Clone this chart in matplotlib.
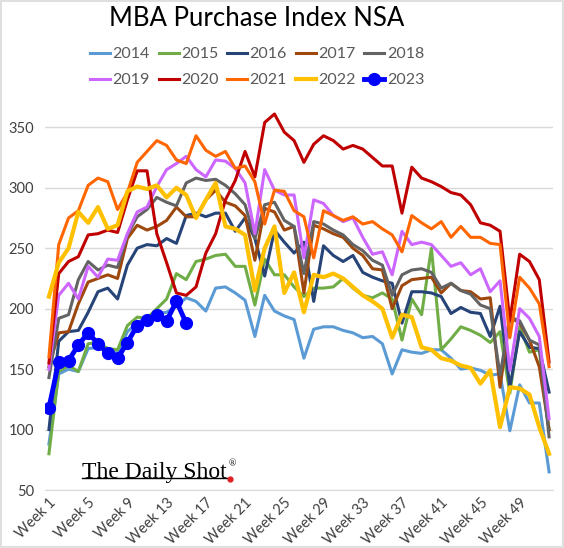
import matplotlib
matplotlib.use('Agg')
import matplotlib.pyplot as plt
from matplotlib.lines import Line2D
from matplotlib.patches import Rectangle

plt.rcParams['font.family'] = ['Lato', 'DejaVu Sans']

weeks = list(range(1, 53))
tick_weeks = list(range(1, 53, 4))
tick_labels = ['Week %d' % w for w in tick_weeks]

y2014 = [88, 146, 150, 148, 167, 168, 166, 163, 181, 188, 193, 196, 197, 202, 209, 206, 198, 217, 218, 213,
         207, 177, 211, 198, 194, 191, 159, 183, 185, 185, 182, 180, 176, 177, 171, 146, 166, 164, 163, 166,
         166, 159, 150, 151, 149, 145, 146, 99, 137, 122, 122, 65]
y2015 = [80, 148, 153, 148, 171, 172, 167, 166, 186, 193, 192, 200, 208, 229, 224, 239, 241, 244, 245, 235,
         235, 203, 241, 228, 228, 218, 210, 217, 217, 218, 225, 217, 211, 209, 213, 208, 174, 208, 195, 250,
         166, 175, 185, 182, 178, 172, 181, 130, 185, 164, 166, 100]
y2016 = [100, 173, 181, 182, 197, 214, 217, 208, 236, 250, 253, 252, 258, 254, 277, 279, 276, 279, 279, 264,
         275, 258, 227, 265, 255, 246, 255, 206, 252, 244, 239, 244, 230, 226, 223, 221, 188, 214, 214, 213,
         210, 196, 201, 197, 196, 177, 202, 135, 181, 168, 167, 131]
y2017 = [152, 180, 181, 204, 222, 225, 228, 225, 258, 269, 265, 268, 273, 284, 276, 276, 290, 298, 288, 285,
         277, 240, 283, 280, 265, 268, 213, 269, 266, 262, 259, 250, 244, 233, 232, 200, 219, 224, 225, 226,
         213, 221, 215, 214, 208, 209, 135, 193, 188, 174, 152, 100]
y2018 = [143, 192, 195, 224, 239, 232, 236, 234, 261, 276, 282, 292, 288, 285, 304, 308, 306, 307, 302, 295,
         286, 258, 286, 288, 273, 268, 229, 272, 270, 265, 261, 253, 248, 240, 236, 211, 228, 232, 233, 230,
         217, 221, 215, 212, 203, 200, 145, 193, 190, 174, 170, 94]
y2019 = [150, 211, 221, 208, 235, 226, 241, 240, 262, 280, 284, 301, 315, 320, 326, 315, 309, 323, 322, 316,
         304, 262, 315, 298, 294, 294, 242, 290, 287, 277, 272, 275, 259, 245, 247, 228, 264, 253, 255, 253,
         244, 235, 238, 228, 233, 214, 223, 149, 200, 192, 177, 109]
y2020 = [155, 229, 239, 243, 261, 262, 265, 263, 290, 314, 314, 262, 238, 213, 211, 218, 246, 262, 290, 306,
         330, 309, 354, 361, 346, 339, 321, 336, 343, 339, 332, 335, 332, 325, 318, 318, 279, 317, 308, 305,
         301, 296, 294, 286, 271, 269, 264, 190, 245, 239, 224, 156]
y2021 = [160, 253, 275, 281, 302, 308, 305, 282, 296, 321, 330, 339, 335, 323, 320, 343, 331, 326, 330, 316,
         318, 305, 270, 298, 297, 281, 276, 242, 281, 277, 273, 276, 270, 272, 266, 261, 247, 277, 271, 266,
         272, 259, 268, 259, 259, 254, 253, 176, 226, 217, 204, 152]
y2022 = [210, 238, 250, 280, 271, 284, 266, 269, 297, 301, 299, 302, 292, 300, 294, 275, 290, 304, 268, 266,
         261, 215, 250, 268, 213, 230, 197, 228, 226, 229, 225, 218, 211, 206, 200, 176, 195, 193, 168, 166,
         159, 157, 153, 151, 138, 149, 102, 135, 134, 129, 102, 80]
y2023 = [118, 156, 157, 170, 180, 171, 163, 159, 172, 186, 191, 195, 190, 206, 188]

series = [
    ('2014', y2014, '#5B9BD5', 2.2),
    ('2015', y2015, '#70AD47', 2.2),
    ('2016', y2016, '#264478', 2.2),
    ('2017', y2017, '#9E480E', 2.2),
    ('2018', y2018, '#636363', 2.2),
    ('2019', y2019, '#CC66FF', 2.2),
    ('2020', y2020, '#C00000', 2.2),
    ('2021', y2021, '#FF6600', 2.2),
    ('2022', y2022, '#FFC000', 3.0),
]

fig = plt.figure(figsize=(5.64, 5.48), dpi=100)
ax = fig.add_axes([0.0798, 0.1058, 0.9007, 0.695])

handles = []
for name, vals, col, lw in series:
    h, = ax.plot(weeks[:len(vals)], vals, color=col, lw=lw, label=name)
    handles.append(h)
h, = ax.plot(weeks[:len(y2023)], y2023, color='#0000FF', lw=3.5, marker='o', ms=8.5, label='2023')
handles.append(h)

ax.set_xlim(0.6, 52.4)
ax.set_ylim(50, 365)
ax.set_yticks([50, 100, 150, 200, 250, 300, 350])
ax.set_xticks(tick_weeks)
ax.set_xticklabels(tick_labels, rotation=45, ha='right', va='top', rotation_mode='anchor')
ax.tick_params(axis='both', length=0, labelsize=10.5, colors='#404040')
ax.tick_params(axis='x', pad=4)
ax.tick_params(axis='y', pad=8)
ax.grid(axis='y', color='#D9D9D9', lw=1)
ax.set_axisbelow(True)
for s in ['top', 'right', 'left']:
    ax.spines[s].set_visible(False)
ax.spines['bottom'].set_color('#D9D9D9')

fig.text(0.455, 0.9526, 'MBA Purchase Index NSA', ha='center', va='baseline', fontsize=18.5, color='black')

# legend fills column by column, so interleave to get two rows of five
order = []
for i in range(5):
    order += [handles[i], handles[i + 5]]
fig.legend(handles=order, labels=[h.get_label() for h in order], loc='center',
           bbox_to_anchor=(0.456, 0.8775), ncol=5, frameon=False, fontsize=11.5,
           handlelength=1.25, handletextpad=0.15, columnspacing=0.55, labelspacing=0.75,
           labelcolor='#595959')

# logo
fig.text(0.145, 0.128, 'The Daily Shot', family='Liberation Serif', fontsize=17, ha='left', va='baseline')
fig.text(0.406, 0.149, '\u00ae', family='Liberation Serif', fontsize=7, ha='left', va='baseline')
fig.add_artist(Line2D([0.145, 0.405], [0.127, 0.127], color='black', lw=1, transform=fig.transFigure))
fig.add_artist(Line2D([0.407], [0.126], marker='o', ms=3.5, color='#E02020', transform=fig.transFigure))

fig.add_artist(Rectangle((0.001, 0.001), 0.997, 0.997, fill=False, edgecolor='#D9D9D9', lw=1.2,
                         transform=fig.transFigure))

fig.savefig('out.png', dpi=100)
